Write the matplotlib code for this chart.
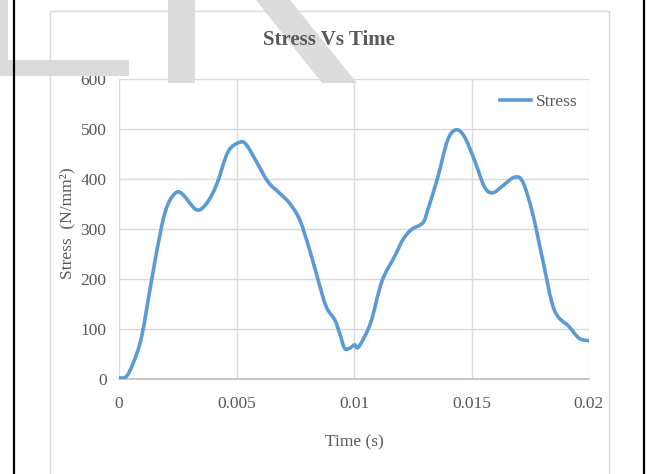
import matplotlib
matplotlib.use("Agg")
import matplotlib.pyplot as plt
from matplotlib.patches import Polygon, Rectangle, PathPatch
from matplotlib.path import Path
from matplotlib.lines import Line2D

# ---- data ----
time_s = [0.0000, 0.0003, 0.0006, 0.00096, 0.00139, 0.00181, 0.0021, 0.00245,
          0.00273, 0.0033, 0.00373, 0.00415, 0.00464, 0.00514, 0.00542, 0.00585,
          0.00634, 0.00684, 0.00726, 0.00769, 0.00811, 0.00847, 0.00882, 0.00918,
          0.00939, 0.0096, 0.00981, 0.01003, 0.0102, 0.0107, 0.01118, 0.01172,
          0.01208, 0.01243, 0.01293, 0.01314, 0.01357, 0.01399, 0.01435, 0.0147,
          0.01512, 0.01555, 0.0159, 0.01633, 0.01682, 0.01718, 0.0176, 0.01803,
          0.01852, 0.01916, 0.01958, 0.0200]
stress = [3, 5, 32, 85, 199, 305, 352, 374,
          369, 339, 352, 389, 455, 474, 469, 435,
          395, 372, 352, 319, 259, 199, 145, 119,
          92, 62, 62, 69, 65, 112, 195, 245,
          279, 299, 313, 339, 405, 479, 499, 485,
          439, 385, 373, 387, 404, 395, 332, 239,
          139, 105, 82, 77]
x_ticks = [0, 0.005, 0.01, 0.015, 0.02]
x_tick_labels = ["0", "0.005", "0.01", "0.015", "0.02"]
y_ticks = [0, 100, 200, 300, 400, 500, 600]
series_name = "Stress"
title = "Stress Vs Time"
x_label = "Time (s)"
y_label = "Stress  (N/mm\u00b2)"

W, H = 647, 474
TXT = "#595959"
GRID = "#d9d9d9"
LINE = "#5b9bd5"
WM = "#dcdcdc"

plt.rcParams["font.family"] = ["Liberation Serif", "DejaVu Serif"]

fig = plt.figure(figsize=(W / 100, H / 100), dpi=100)
fig.patch.set_facecolor("white")

def fx(px):
    return px / W

def fy(py):
    return 1 - py / H

# watermark shapes (decorative)
wm_polys = [
    [(0, 0), (8, 0), (8, 60), (0, 60)],
    [(0, 60), (129, 60), (129, 76), (0, 76)],
    [(168, 0), (195, 0), (195, 83), (168, 83)],
    [(256, 0), (290, 0), (357, 83), (322, 83)],
]
for poly in wm_polys:
    fig.patches.append(Polygon([(fx(a), fy(b)) for a, b in poly], closed=True,
                               transform=fig.transFigure, facecolor=WM,
                               edgecolor="none", zorder=0))

# chart border
fig.patches.append(Rectangle((fx(50), fy(480)), fx(609) - fx(50), fy(11) - fy(480),
                             transform=fig.transFigure, facecolor="none",
                             edgecolor=GRID, lw=1.0, zorder=1))
# page black lines
for xp in (14, 644):
    fig.lines.append(Line2D([fx(xp), fx(xp)], [0, 1], transform=fig.transFigure,
                            color="black", lw=1.6, zorder=2))

ax = fig.add_axes([fx(119), fy(379.3), fx(589) - fx(119), fy(79.3) - fy(379.3)])
ax.set_facecolor("none")

# smoothed line (Excel-style Catmull-Rom through the data points)
pts = list(zip(time_s, stress))
verts = [pts[0]]
codes = [Path.MOVETO]
n = len(pts)
for i in range(n - 1):
    p0 = pts[i - 1] if i > 0 else pts[i]
    p1 = pts[i]
    p2 = pts[i + 1]
    p3 = pts[i + 2] if i + 2 < n else pts[i + 1]
    c1 = (p1[0] + (p2[0] - p0[0]) / 6, p1[1] + (p2[1] - p0[1]) / 6)
    c2 = (p2[0] - (p3[0] - p1[0]) / 6, p2[1] - (p3[1] - p1[1]) / 6)
    verts += [c1, c2, p2]
    codes += [Path.CURVE4] * 3
ax.add_patch(PathPatch(Path(verts, codes), facecolor="none", edgecolor=LINE,
                       lw=2.6, capstyle="round", joinstyle="round", zorder=3,
                       transform=ax.transData))

ax.set_xlim(0, 0.02)
ax.set_ylim(0, 600)
ax.set_xticks(x_ticks)
ax.set_xticklabels(x_tick_labels)
ax.set_yticks(y_ticks)
ax.grid(True, color=GRID, lw=1.0)
ax.set_axisbelow(True)
for s in ("top", "right", "left"):
    ax.spines[s].set_visible(False)
ax.spines["bottom"].set_color("#bfbfbf")
ax.spines["bottom"].set_linewidth(1.2)
ax.tick_params(axis="both", length=0, labelsize=12.5, labelcolor=TXT)
ax.tick_params(axis="x", pad=12)
ax.tick_params(axis="y", pad=9)

ax.set_xlabel(x_label, fontsize=12.5, color=TXT)
ax.xaxis.label.set_va("center")
ax.xaxis.set_label_coords(0.5, (379.3 - 442) / 300)
ax.set_ylabel(y_label, fontsize=12.5, color=TXT)
ax.yaxis.label.set_va("center")
ax.yaxis.set_label_coords((67 - 119) / 470, 0.52)

fig.text(fx(329), fy(40), title, ha="center", va="center", fontsize=15,
         fontweight="bold", color=TXT)

handle = Line2D([], [], color=LINE, lw=2.6)
leg = ax.legend([handle], [series_name], loc="center right",
                bbox_to_anchor=(0.976, 0.924), frameon=False,
                fontsize=12.5, handlelength=1.8, handletextpad=0.3, borderpad=0,
                borderaxespad=0)
for t in leg.get_texts():
    t.set_color(TXT)

fig.savefig("out.png", dpi=100)
